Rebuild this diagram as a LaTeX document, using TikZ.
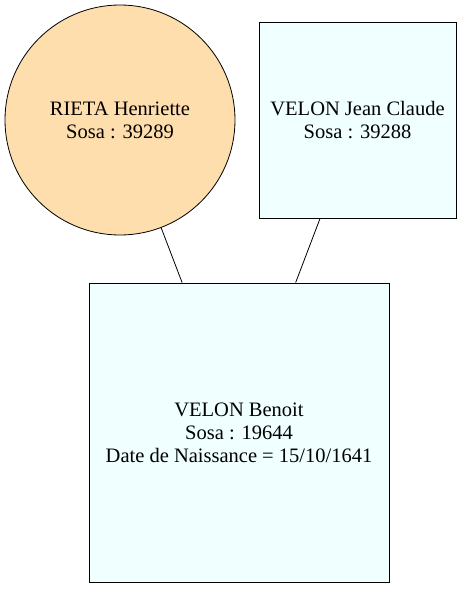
\documentclass[tikz,border=0pt]{standalone}
\usepackage{fontspec}
\setmainfont{Liberation Serif}
\definecolor{azurefill}{HTML}{F0FFFF}
\definecolor{navajofill}{HTML}{FFDEAD}
\tikzset{
  person/.style={draw=black, line width=0.8pt, align=center, inner sep=0pt,
    font=\fontsize{20.5}{23}\selectfont},
  man/.style={person, rectangle, fill=azurefill},
  woman/.style={person, circle, fill=navajofill},
  link/.style={draw=black, line width=0.8pt}
}
\begin{document}
\begin{tikzpicture}[x=1pt, y=-1pt]

  \useasboundingbox (0,0) rectangle (462,589);

  \node (henriette) at (120,120) [woman, minimum size=230pt]
    {RIETA Henriette\\Sosa : 39289};
  \node (jeanclaude) at (357.5,120) [man, minimum width=197pt, minimum height=196pt]
    {VELON Jean Claude\\Sosa : 39288};
  \node (benoit) at (239,432.5) [man, minimum width=300pt, minimum height=299pt]
    {VELON Benoit\\Sosa : 19644\\Date de Naissance = 15/10/1641};

  \draw [link] (henriette) -- (benoit);
  \draw [link] (jeanclaude) -- (benoit);

\end{tikzpicture}
\end{document}
